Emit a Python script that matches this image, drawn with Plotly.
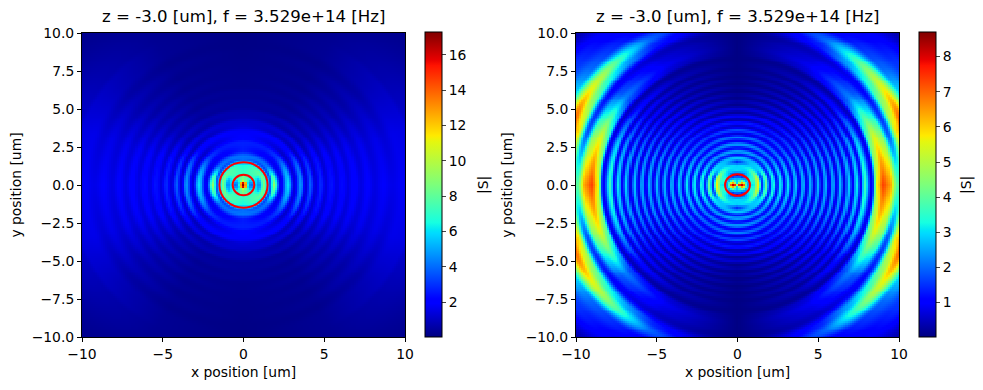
import numpy as np
import plotly.graph_objects as go

# The page has an 8 px body margin, so the figure is drawn 8 px smaller and all positions shift by it.
PAGE_W, PAGE_H, OFFSET = 983, 390, 8
W, H = PAGE_W - OFFSET, PAGE_H - OFFSET
panel_title = "z = -3.0 [um], f = 3.529e+14 [Hz]"
x_label = "x position [um]"
y_label = "y position [um]"
cbar_label = "|S|"
x_ticks = [-10, -5, 0, 5, 10]
y_ticks = [-10, -7.5, -5, -2.5, 0, 2.5, 5, 7.5, 10]
left_cbar_ticks = [2, 4, 6, 8, 10, 12, 14, 16]
right_cbar_ticks = [1, 2, 3, 4, 5, 6, 7, 8]
left_range = [0.02, 17.3]
right_range = [0.02, 8.7]

# Values: radius of each ring crest/trough [um],
# then |S| at the polar angles in profile_angles.
profile_angles = [0, 20, 40, 60, 90]
left_radii = [0, .12, .3, .45, .68, .95, 1.25, 1.5, 1.65, 1.85, 2.3, 2.75, 3.15, 3.55, 3.85, 4.15,
              4.45, 4.8, 5.1, 5.45, 5.8, 6.15, 6.5, 6.85, 7.25, 7.65, 8.1, 8.65, 9.2, 9.8, 10.6, 11, 14.2]
left_a0 = [17.2, 13, 5, 3.8, 6, 4.4, 8.5, 5, 3.8, 9.2, 1.6, 6, 1.4, 4.8, 1.3, 3.8,
           1.3, 2.9, 1.4, 2.5, 1.5, 2.3, 1.5, 2.1, 1.5, 2, 1.5, 1.9, 1.6, 1.8, 1.6, 1.2, .5]
left_a20 = [17.2, 13.5, 5.5, 4.5, 6.5, 5.2, 8.5, 5.5, 3.5, 7, 1.6, 5, 1.3, 4, 1.2, 3,
            1.2, 2.4, 1.2, 2.1, 1.3, 1.9, 1.3, 1.8, 1.3, 1.7, 1.3, 1.6, 1.3, 1.6, 1.5, 1.2, .5]
left_a40 = [17.2, 14, 6.5, 6, 7, 7.5, 8, 6, 3.2, 4.2, 1.7, 3.2, 1.1, 2.2, .9, 1.6,
            .7, 1.2, .7, 1, .65, .95, .65, .9, .6, .85, .6, .85, .6, .85, .9, .7, .3]
left_a60 = [17.2, 15, 8, 7.5, 7, 7.5, 7.5, 5.5, 3.5, 4, 2, 2.6, 1.5, 2, 1, 1.3,
            .6, .8, .4, .5, .3, .42, .28, .38, .24, .33, .22, .32, .2, .32, .32, .3, .1]
left_a90 = [17.2, 16, 9, 8.5, 7, 7, 6.5, 5, 4, 4.2, 2.6, 2.7, 2, 1.8, 1.3, 1.1,
            .8, .7, .4, .4, .3, .3, .2, .2, .2, .15, .15, .12, .1, .08, .06, .05, .02]

right_radii = [0, .17, .33, .45, .6, .75, 1, 1.25, 1.5, 1.75, 1.98, 2.2, 2.44, 2.67, 2.9, 3.13, 3.37, 3.6,
               3.83, 4.07, 4.3, 4.53, 4.77, 5, 5.23, 5.47, 5.7, 5.94, 6.17, 6.4, 6.63, 6.87, 7.1, 7.35,
               7.6, 7.85, 8.3, 8.65, 9.0, 9.4, 9.9, 10.5, 11, 11.8, 12.7, 14.2]
right_a0 = [5, 8.2, 8.2, 4.5, 2.5, 3, 3.2, 5.7, 1.5, 4.1, 1.3, 3.5, 1.1, 3.3, 1, 3.1, .9, 2.9,
            .9, 2.8, .8, 2.7, .8, 2.7, .8, 2.7, .8, 2.7, .8, 2.8, .8, 2.9, .9, 3.2,
            1.1, 3.7, .9, 5.8, 7.3, 6.6, 4, 4, 4, 2, 2, .4]
right_a20 = [5, 7.2, 7, 4, 2.5, 3.5, 3.5, 5.2, 1.6, 3.8, 1.3, 3.2, 1.1, 2.9, 1, 2.7, .9, 2.5,
             .8, 2.4, .8, 2.3, .7, 2.3, .7, 2.3, .7, 2.2, .7, 2.2, .7, 2.3, .8, 2.5,
             .9, 2.9, .8, 4.2, 5.5, 4.6, 1.8, 6, 7.5, 4, 2, .4]
right_a40 = [4, 5, 4.8, 3, 2.2, 3, 3.2, 4, 2.8, 3, 1.3, 2.5, 1.1, 2.2, 1, 2.1, .9, 1.9,
             .8, 1.7, .7, 1.6, .6, 1.5, .5, 1.4, .45, 1.3, .4, 1.2, .4, 1.1, .4, 1.1,
             .4, 1.2, .4, 1.7, 2.2, 1.8, 1, 3.5, 5, 2, 1.5, .4]
right_a60 = [3, 3.6, 3.4, 2.5, 1.5, 2, 2.8, 3.2, 2.8, 2.7, 1.3, 2.4, 1.1, 2.2, 1, 1.9, .8, 1.6,
             .7, 1.3, .5, 1.1, .4, .9, .3, .8, .25, .7, .2, .6, .2, .55, .2, .5,
             .2, .5, .2, .7, .9, .75, .5, 1.4, 2, .9, .5, .2]
right_a90 = [2.5, 3, 2.8, 2.3, 1, 2, 3, 2.9, 1.5, 2.8, 1.2, 2.6, 1.1, 2.5, .9, 2.2, .7, 1.8,
             .5, 1.3, .3, .9, .2, .6, .12, .3, .08, .2, .06, .15, .05, .1, .05, .08,
             .05, .06, .05, .05, .05, .05, .05, .08, .1, .05, .05, .03]

# Red contour outlines: [x radius, y radius] in um
left_contours = [[.67, .68], [1.49, 1.49]]
right_contours = [[.77, .71]]

jet_stops = [
    [0, "#000080"], [.11, "#0000ff"], [.125, "#0000ff"], [.34, "#00dbff"], [.35, "#00e5f7"],
    [.375, "#16ffe1"], [.5, "#7dff7a"], [.64, "#e4f70f"], [.66, "#ffea00"], [.89, "#ff1300"],
    [.91, "#e60000"], [1, "#800000"],
]


def resample(radii, columns, n=161):
    """Lay the hand-read polar table onto a cartesian grid for the heatmap."""
    axis = np.linspace(-10, 10, n)
    xx, yy = np.meshgrid(axis, axis)
    rr = np.hypot(xx, yy)
    tt = np.degrees(np.arctan2(np.abs(yy), np.abs(xx)))
    radii = np.array(radii, float)
    i = np.clip(np.searchsorted(radii, rr) - 1, 0, len(radii) - 2)
    t = np.clip((rr - radii[i]) / (radii[i + 1] - radii[i]), 0, 1)
    t = t * t * (3 - 2 * t)
    per_angle = [np.array(c, float)[i] * (1 - t) + np.array(c, float)[i + 1] * t for c in columns]
    stack = np.stack(per_angle)
    a = np.clip(np.searchsorted(profile_angles, tt) - 1, 0, len(profile_angles) - 2)
    ang = np.array(profile_angles, float)
    w = (tt - ang[a]) / (ang[a + 1] - ang[a])
    rows, cols = np.indices(tt.shape)
    return axis, stack[a, rows, cols] * (1 - w) + stack[a + 1, rows, cols] * w


FONT = "DejaVu Sans"
INK = "#000000"
fig = go.Figure()
panels = [
    ("x", "y", 82, 405, 425, 483, left_radii, [left_a0, left_a20, left_a40, left_a60, left_a90],
     left_range, left_cbar_ticks, left_contours),
    ("x2", "y2", 576, 899, 919, 966, right_radii, [right_a0, right_a20, right_a40, right_a60, right_a90],
     right_range, right_cbar_ticks, right_contours),
]
top, bottom = 33 - OFFSET, 337 - OFFSET


def px(v):
    return (v - OFFSET) / W


for xa, ya, x0, x1, cb, lbl, radii, cols, zr, cticks, contours in panels:
    axis, z = resample(radii, cols)
    fig.add_trace(go.Heatmap(
        x=axis, y=axis, z=z, xaxis=xa, yaxis=ya, colorscale=jet_stops, zmin=zr[0], zmax=zr[1],
        zsmooth=False, hoverinfo="skip",
        colorbar=dict(
            x=px(cb), xanchor="left", xref="paper", y=(H - bottom) / H, yanchor="bottom", yref="paper",
            len=(bottom - top + 1) / H, lenmode="fraction", thickness=17, thicknessmode="pixels",
            xpad=0, ypad=0, outlinewidth=1, outlinecolor="black", tickvals=cticks, ticks="outside",
            ticklen=4, tickwidth=1, tickfont=dict(family=FONT, size=13.9, color=INK),
        ),
    ))
    for rx, ry in contours:
        fig.add_shape(type="circle", xref=xa, yref=ya, x0=-rx, x1=rx, y0=-ry, y1=ry,
                      line=dict(color="red", width=2))
    fig.add_annotation(text=panel_title, x=(px(x0) + px(x1)) / 2, y=(H - top + 5) / H, xref="paper", yref="paper",
                       xanchor="center", yanchor="bottom", showarrow=False,
                       font=dict(family=FONT, size=16.6, color=INK))
    fig.add_annotation(text=cbar_label, x=px(lbl), y=(H - (top + bottom) / 2) / H, xref="paper", yref="paper",
                       xanchor="center", yanchor="middle", textangle=-90, showarrow=False,
                       font=dict(family=FONT, size=13.9, color=INK))

axis_style = dict(range=[-10, 10], showline=True, mirror=True, linecolor="black", linewidth=1, showgrid=False,
                  zeroline=False, ticks="outside", ticklen=4, tickwidth=1, tickcolor="black",
                  tickfont=dict(family=FONT, size=13.9, color=INK), automargin=False)
title_font = dict(family=FONT, size=13.9, color=INK)
layout = dict(width=W, height=H, margin=dict(l=0, r=0, t=0, b=0), paper_bgcolor="white", plot_bgcolor="white",
              showlegend=False)
for i, (xa, ya, x0, x1, *_rest) in enumerate(panels):
    sfx = "" if i == 0 else "2"
    layout["xaxis" + sfx] = dict(axis_style, domain=[px(x0), px(x1)], anchor="y" + sfx, tickvals=x_ticks,
                                 title=dict(text=x_label, font=title_font, standoff=6))
    layout["yaxis" + sfx] = dict(axis_style, domain=[(H - bottom) / H, (H - top) / H], anchor="x" + sfx,
                                 tickvals=y_ticks, tickformat=".1f",
                                 title=dict(text=y_label, font=title_font, standoff=9))
fig.update_layout(**layout)
fig.write_html("out.html")
